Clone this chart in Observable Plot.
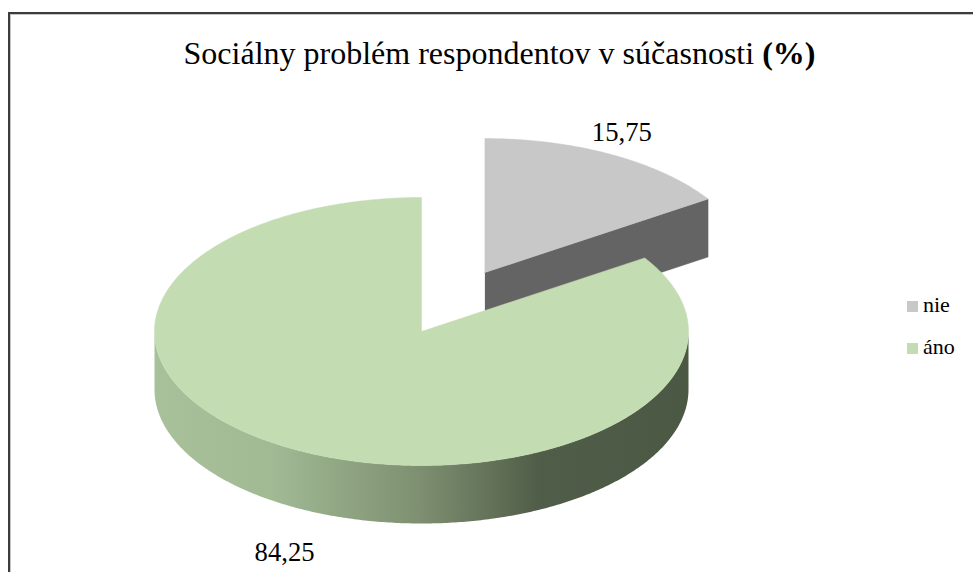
<!DOCTYPE html>
<html><head><meta charset="utf-8">
<script src="https://cdn.jsdelivr.net/npm/d3@7"></script>
<script src="https://cdn.jsdelivr.net/npm/@observablehq/plot@0.6"></script>
<style>
body{margin:0;background:#fff;}
#wrap{position:relative;width:973px;height:572px;overflow:hidden;font-family:"Liberation Serif","Tinos","Times New Roman","DejaVu Serif","Noto Serif",serif;color:#000;}
#frame{position:absolute;left:8px;top:12px;width:1000px;height:620px;border:2px solid #3c3c3c;box-shadow:inset 1px 1px 0 #c4c4c4;}
#title{position:absolute;top:40px;left:13px;width:973px;text-align:center;font-size:28px;line-height:1;white-space:nowrap;}
#title span{display:inline-block;}
#plot{position:absolute;left:0;top:0;}
#legend{position:absolute;left:907px;top:294px;font-size:22px;line-height:1;}
#legend .item{position:relative;height:42px;}
#legend .sw{position:absolute;left:0;top:7px;width:11px;height:11px;}
#legend .lb{position:absolute;left:16px;top:0;white-space:nowrap;}
</style>
</head><body>
<div id="wrap">
  <div id="frame"></div>
  <div id="plot"></div>
  <div id="title"><span id="tspan">Sociálny problém respondentov v súčasnosti <b>(%)</b></span></div>
  <div id="legend"></div>
</div>
<script>
// ---- data ----
const categories = ["nie", "áno"];
const values = [15.75, 84.25];
const labels = ["15,75", "84,25"];
const topColors = ["#c8c8c8", "#c3dcb2"];
const sideStops = [
  [["#646464", 0], ["#646464", 1]],
  [["#a8c19a", 0], ["#a1ba94", 0.22], ["#7d8f70", 0.5], ["#505d48", 0.72], ["#4b5843", 1]]
];
const radialFaceColors = ["#646464", "#4f5c47"];
const explodedCategory = "nie";

// ---- layout ----
const W = 973, H = 572;
const cx = 421, cy = 331, rx = 267, ry = 134, depth = 58, explodeFrac = 0.5;
const labelR = 1.08, frontGap = 25, backGap = 4;
const FONT = getComputedStyle(document.getElementById("wrap")).fontFamily;

const ctx = document.createElement("canvas").getContext("2d");
function fitSize(text, targetWidth, ref = 100, weight = "normal") {
  ctx.font = `${weight} ${ref}px ${FONT}`;
  return ref * targetWidth / ctx.measureText(text).width;
}
const labelSize = fitSize("15,75", 60);
const legendSize = Math.min(22, fitSize("nie", 30));

const arcs = d3.pie().sort(null).value(d => d)(values);
const pt = (ox, oy, a, dz = 0) => ({x: ox + rx * Math.sin(a), y: oy - ry * Math.cos(a) + dz});
function arcPts(ox, oy, a0, a1, dz = 0) {
  const n = Math.max(2, Math.ceil(Math.abs(a1 - a0) / 0.01));
  return d3.range(n + 1).map(i => pt(ox, oy, a0 + (a1 - a0) * i / n, dz));
}

const marks = [];
const defs = () => {
  const ns = "http://www.w3.org/2000/svg";
  const d = document.createElementNS(ns, "defs");
  sideStops.forEach((stops, i) => {
    const g = document.createElementNS(ns, "linearGradient");
    g.setAttribute("id", "side" + i);
    g.setAttribute("x1", "0"); g.setAttribute("x2", "1"); g.setAttribute("y1", "0"); g.setAttribute("y2", "0");
    stops.forEach(([c, o]) => {
      const s = document.createElementNS(ns, "stop");
      s.setAttribute("offset", o); s.setAttribute("stop-color", c);
      g.appendChild(s);
    });
    d.appendChild(g);
  });
  return d;
};
marks.push(defs);

const labelData = [];
const order = categories.map((c, i) => i).sort((a, b) => (categories[b] === explodedCategory) - (categories[a] === explodedCategory));
for (const i of order) {
  const a = arcs[i];
  const mid = (a.startAngle + a.endAngle) / 2;
  const e = categories[i] === explodedCategory ? explodeFrac : 0;
  const ox = cx + rx * e * Math.sin(mid), oy = cy - ry * e * Math.cos(mid);
  const fill = topColors[i];
  for (const [ang, vis] of [[a.endAngle, Math.sin(a.endAngle) > 1e-6], [a.startAngle, Math.sin(a.startAngle) < -1e-6]]) {
    if (!vis) continue;
    const p = pt(ox, oy, ang);
    const face = [{x: ox, y: oy}, p, {x: p.x, y: p.y + depth}, {x: ox, y: oy + depth}];
    marks.push(Plot.line(face, {x: "x", y: "y", fill: radialFaceColors[i], stroke: radialFaceColors[i], strokeWidth: 0.5}));
  }
  const s0 = Math.max(a.startAngle, Math.PI / 2), s1 = Math.min(a.endAngle, 3 * Math.PI / 2);
  if (s1 > s0) {
    const side = [...arcPts(ox, oy, s0, s1), ...arcPts(ox, oy, s1, s0, depth)];
    marks.push(Plot.line(side, {x: "x", y: "y", fill: `url(#side${i})`, stroke: "none"}));
  }
  const topFace = [{x: ox, y: oy}, ...arcPts(ox, oy, a.startAngle, a.endAngle), {x: ox, y: oy}];
  marks.push(Plot.line(topFace, {x: "x", y: "y", fill, stroke: fill, strokeWidth: 0.5}));
  const lp = pt(ox, oy, mid);
  const front = Math.cos(mid) < 0;
  labelData.push({
    x: ox + (lp.x - ox) * labelR,
    y: oy + (lp.y - oy) * labelR + (front ? depth + frontGap : -backGap),
    text: labels[i],
    anchor: front ? "top" : "bottom"
  });
}
for (const anchor of ["top", "bottom"]) {
  marks.push(Plot.text(labelData.filter(d => d.anchor === anchor), {
    x: "x", y: "y", text: "text", lineAnchor: anchor,
    fontFamily: FONT, fontSize: labelSize, fill: "#000"
  }));
}

const chart = Plot.plot({
  width: W, height: H, margin: 0,
  style: {background: "transparent", overflow: "visible"},
  x: {domain: [0, W], range: [0, W], axis: null},
  y: {domain: [0, H], range: [0, H], axis: null},
  marks
});
document.getElementById("plot").appendChild(chart);

const tspan = document.getElementById("tspan");
const tw = tspan.getBoundingClientRect().width;
const tsize = Math.min(32, 28 * 644 / tw);
document.getElementById("title").style.fontSize = tsize + "px";
document.getElementById("title").style.top = (55 - tsize * 0.55) + "px";

const legend = document.getElementById("legend");
legend.style.fontSize = legendSize + "px";
categories.forEach((c, i) => {
  const it = document.createElement("div");
  it.className = "item";
  it.innerHTML = `<span class="sw" style="background:${topColors[i]}"></span><span class="lb">${c}</span>`;
  legend.appendChild(it);
});
</script>
</body></html>
